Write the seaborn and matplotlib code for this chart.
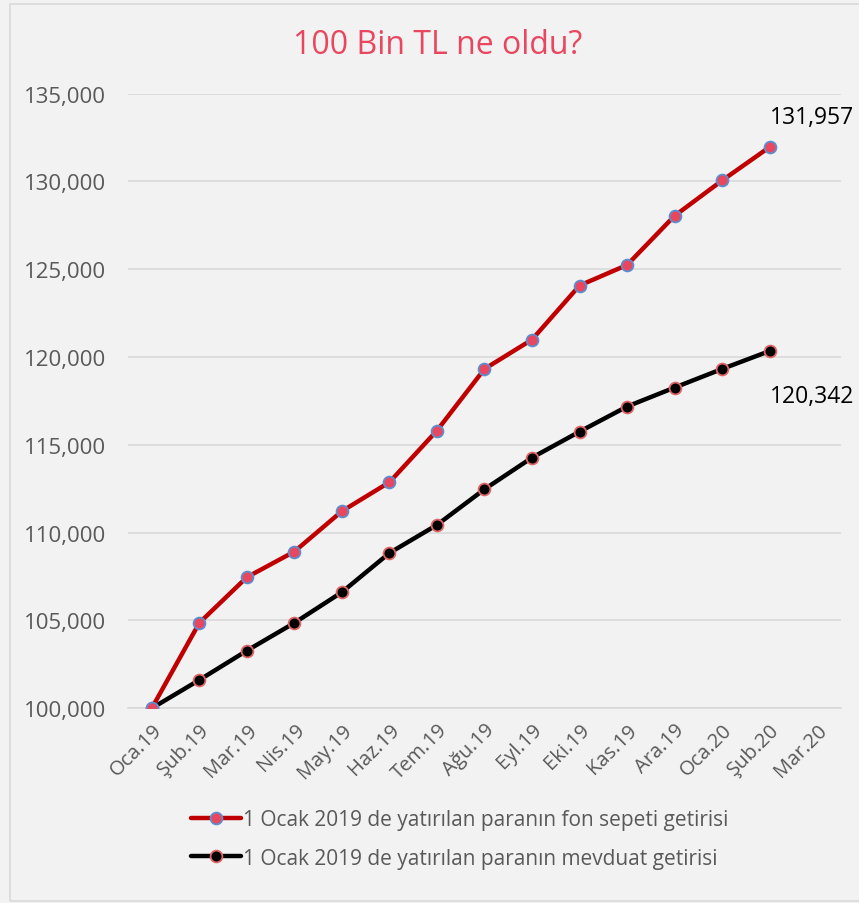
import numpy as np
import pandas as pd
import seaborn as sns
import matplotlib.pyplot as plt
from matplotlib.lines import Line2D
from matplotlib.patches import Rectangle
from matplotlib.ticker import FuncFormatter, FixedLocator

months = ["Oca.19", "Şub.19", "Mar.19", "Nis.19", "May.19", "Haz.19", "Tem.19",
          "Ağu.19", "Eyl.19", "Eki.19", "Kas.19", "Ara.19", "Oca.20", "Şub.20", "Mar.20"]
fon = [100000, 104860, 107460, 108920, 111220, 112870, 115810,
       119320, 120990, 124070, 125240, 128040, 130050, 131957]
mevduat = [100000, 101610, 103280, 104860, 106610, 108840, 110440,
           112470, 114270, 115750, 117180, 118260, 119320, 120342]
label_fon = "1 Ocak 2019 de yatırılan paranın fon sepeti getirisi"
label_mev = "1 Ocak 2019 de yatırılan paranın mevduat getirisi"
title = "100 Bin TL ne oldu?"

sns.set_style("white")
plt.rcParams['font.family'] = ['Open Sans', 'DejaVu Sans']

bg = "#f2f2f2"
fig = plt.figure(figsize=(8.59, 9.04), dpi=100, facecolor=bg)
ax = fig.add_axes([0.149, 0.2154, 0.830, 0.680])
ax.set_facecolor(bg)
fig.patches.append(Rectangle((10 / 859, 0.002), 1.2, 1 - 5 / 904 - 0.002, transform=fig.transFigure,
                             fill=False, edgecolor="#d9d9d9", linewidth=1.2))

df_fon = pd.DataFrame({"x": np.arange(len(fon)), "y": fon})
df_mev = pd.DataFrame({"x": np.arange(len(mevduat)), "y": mevduat})

sns.lineplot(data=df_fon, x="x", y="y", ax=ax, color="#c00000", linewidth=3.2,
             marker="o", markersize=8.5, markerfacecolor="#e8475f",
             markeredgecolor="#5b8fd0", markeredgewidth=1.3, zorder=4)
sns.lineplot(data=df_mev, x="x", y="y", ax=ax, color="black", linewidth=3.2,
             marker="o", markersize=8.5, markerfacecolor="black",
             markeredgecolor="#e06666", markeredgewidth=1.3, zorder=3)

ax.set_ylim(100000, 135000)
ax.set_yticks(np.arange(100000, 135001, 5000))
ax.yaxis.set_major_formatter(FuncFormatter(lambda v, p: f"{int(v):,}"))
ax.set_xlim(-0.5, len(months) - 0.5)
ax.set_xticks(np.arange(len(months)))
ax.set_xticklabels(months, rotation=45, ha="right", rotation_mode="anchor")
ax.xaxis.set_minor_locator(FixedLocator(np.arange(-0.5, len(months), 1)))
ax.tick_params(axis="x", which="major", length=0, pad=8, labelsize=14.5, labelcolor="#595959")
ax.tick_params(axis="x", which="minor", length=6, width=1, color="#d9d9d9")
ax.tick_params(axis="y", length=0, pad=16, labelsize=16, labelcolor="#595959")
ax.set_xlabel("")
ax.set_ylabel("")
ax.grid(axis="y", color="#d9d9d9", linewidth=1.2)
ax.set_axisbelow(True)
for s in ["top", "right", "left"]:
    ax.spines[s].set_visible(False)
ax.spines["bottom"].set_color("#d9d9d9")
ax.spines["bottom"].set_linewidth(1.2)

ax.annotate(f"{fon[-1]:,}", (len(fon) - 1, fon[-1]), xytext=(0, 13), textcoords="offset points",
            ha="left", va="bottom", fontsize=16.5, color="black")
ax.annotate(f"{mevduat[-1]:,}", (len(mevduat) - 1, mevduat[-1]), xytext=(0, -24), textcoords="offset points",
            ha="left", va="top", fontsize=16.5, color="black")

fig.text(0.51, 0.95, title, ha="center", va="center", fontsize=23, color="#e8475f")

handles = [
    Line2D([], [], color="#c00000", linewidth=3.2, marker="o", markersize=8.5,
           markerfacecolor="#e8475f", markeredgecolor="#5b8fd0", markeredgewidth=1.3),
    Line2D([], [], color="black", linewidth=3.2, marker="o", markersize=8.5,
           markerfacecolor="black", markeredgecolor="#e06666", markeredgewidth=1.3),
]
leg = fig.legend(handles, [label_fon, label_mev], loc="center", bbox_to_anchor=(0.535, 0.071),
                 frameon=False, fontsize=15, handlelength=2.4, handletextpad=0.1,
                 labelspacing=0.85, labelcolor="#595959")

fig.savefig("out.png", dpi=100, facecolor=bg)
